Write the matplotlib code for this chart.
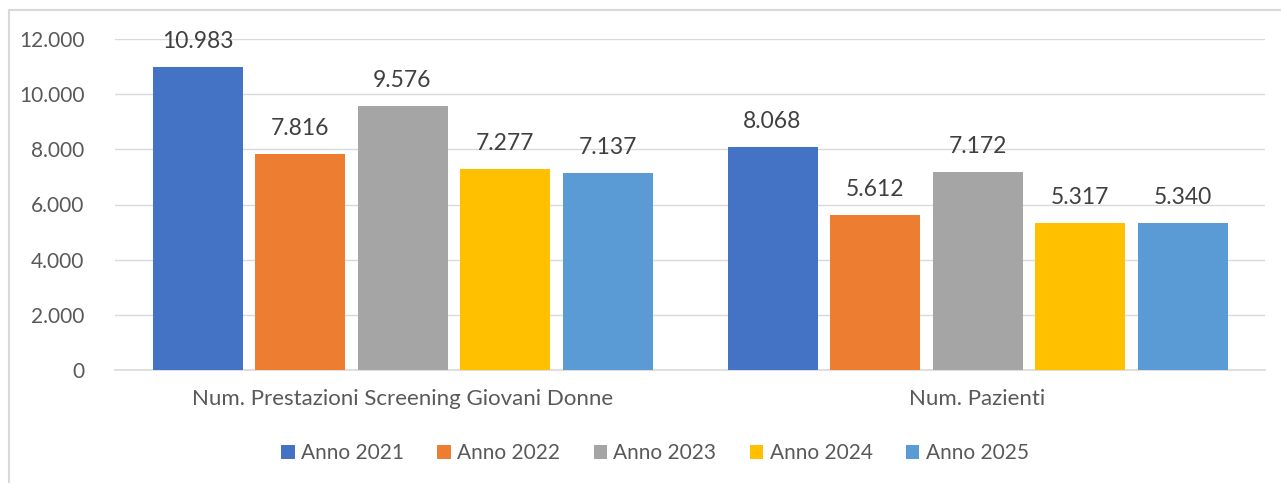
import numpy as np
import matplotlib.pyplot as plt
from matplotlib.patches import Rectangle

categories = ["Num. Prestazioni Screening Giovani Donne", "Num. Pazienti"]
series = ["Anno 2021", "Anno 2022", "Anno 2023", "Anno 2024", "Anno 2025"]
values_2021 = [10983, 8068]
values_2022 = [7816, 5612]
values_2023 = [9576, 7172]
values_2024 = [7277, 5317]
values_2025 = [7137, 5340]
all_values = [values_2021, values_2022, values_2023, values_2024, values_2025]
colors = ["#4472C4", "#ED7D31", "#A5A5A5", "#FFC000", "#5B9BD5"]
yticks = [0, 2000, 4000, 6000, 8000, 10000, 12000]

plt.rcParams['font.family'] = ['Lato', 'DejaVu Sans']
txt = "#595959"

def fmt(v):
    return f"{v:,}".replace(",", ".")

W, H = 1281, 483
fig = plt.figure(figsize=(W / 100, H / 100), dpi=100)
fig.patch.set_facecolor('white')

# outer chart frame (cut off at right/bottom)
fig.patches.append(Rectangle((9 / W, -0.1), 1.2, 1 - 10 / H + 0.1, transform=fig.transFigure,
                             fill=False, edgecolor="#D9D9D9", linewidth=1.5))

ax = fig.add_axes([115 / W, 1 - 370 / H, 1150 / W, 331 / H])

x = np.arange(len(categories))
step = 102.5 / 575
width = 90 / 575
for i, (name, vals, c) in enumerate(zip(series, all_values, colors)):
    pos = x + (i - 2) * step
    bars = ax.bar(pos, vals, width=width, color=c, label=name, zorder=3)
    for b, v in zip(bars, vals):
        ax.text(b.get_x() + b.get_width() / 2, v + 550, fmt(v), ha='center', va='bottom',
                fontsize=16.5, color="#404040")

ax.set_xlim(-0.5, 1.5)
ax.set_ylim(0, 12000)
ax.set_yticks(yticks)
ax.set_yticklabels([fmt(t) for t in yticks], fontsize=15, color=txt)
ax.set_xticks(x)
ax.set_xticklabels(categories, fontsize=16, color=txt)
ax.tick_params(axis='both', length=0)
ax.tick_params(axis='y', pad=22)
ax.tick_params(axis='x', pad=14)
ax.grid(axis='y', color="#D9D9D9", linewidth=1, zorder=0)
for s in ['top', 'right', 'left']:
    ax.spines[s].set_visible(False)
ax.spines['bottom'].set_color("#D9D9D9")
ax.spines['bottom'].set_linewidth(1.2)

fig.legend(loc='center', bbox_to_anchor=(655 / W, 1 - 453 / H), ncol=5, frameon=False,
           fontsize=15, labelcolor=txt, handlelength=0.65, handleheight=0.65,
           handletextpad=0.3, columnspacing=1.6)

fig.savefig("out.png", dpi=100)
